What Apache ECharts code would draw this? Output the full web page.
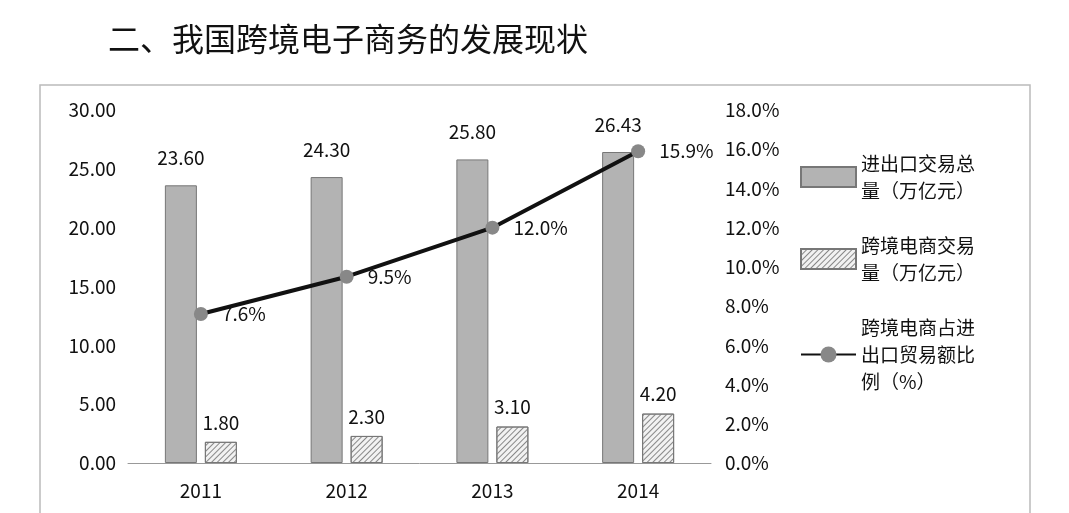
<!DOCTYPE html>
<html><head><meta charset="utf-8">
<script src="https://cdn.jsdelivr.net/npm/echarts@6/dist/echarts.min.js"></script>
<style>html,body{margin:0;background:#fff}#c{width:1069px;height:513px}</style>
</head><body><div id="c"></div>
<script>
const years=['2011','2012','2013','2014'];
const totalTrade=[23.60,24.30,25.80,26.43];
const crossBorder=[1.80,2.30,3.10,4.20];
const ratio=[7.6,9.5,12.0,15.9];
const leftTicks=[0,5,10,15,20,25,30];
const rightTicks=[0,2,4,6,8,10,12,14,16,18];
const font='"Noto Sans CJK SC","Noto Sans",sans-serif';
const chart=echarts.init(document.getElementById('c'));
chart.setOption({
  textStyle:{fontFamily:font,color:'#111'},
  title:{text:'二、我国跨境电子商务的发展现状',left:103,top:18,textStyle:{fontSize:32,fontWeight:'normal',color:'#111',fontFamily:font}},
  graphic:[{type:'rect',shape:{x:40,y:85,width:990,height:440},style:{fill:'none',stroke:'#bbb',lineWidth:1.5}}],
  grid:{left:128,right:358,top:110,bottom:50},
  legend:{orient:'vertical',left:795,top:145,itemGap:28,itemWidth:55,itemHeight:20,
    textStyle:{fontSize:19,color:'#111',lineHeight:27,fontFamily:font},
    data:[{name:'进出口交易总\n量（万亿元）',icon:'rect'},{name:'跨境电商交易\n量（万亿元）',icon:'rect'},{name:'跨境电商占进\n出口贸易额比\n例（%）'}]},
  xAxis:{type:'category',data:years,axisTick:{show:false},axisLine:{lineStyle:{color:'#999'}},
    axisLabel:{fontSize:19,color:'#111',margin:18}},
  yAxis:[{type:'value',min:0,max:30,interval:5,splitLine:{show:false},axisLine:{show:false},
     axisLabel:{fontSize:19,color:'#111',formatter:v=>v.toFixed(2),margin:12}},
    {type:'value',min:0,max:18,interval:2,splitLine:{show:false},axisLine:{show:false},
     axisLabel:{fontSize:19,color:'#111',formatter:v=>v.toFixed(1)+'%',margin:14}}],
  series:[
    {name:'进出口交易总\n量（万亿元）',type:'bar',data:totalTrade,barWidth:32,barGap:'25%',
     itemStyle:{color:'#b3b3b3',borderColor:'#777',borderWidth:1},
     label:{show:true,position:'top',fontSize:19,color:'#111',distance:18,formatter:p=>p.value.toFixed(2)}},
    {name:'跨境电商交易\n量（万亿元）',type:'bar',data:crossBorder,barWidth:32,
     itemStyle:{color:'#f2f2f2',borderColor:'#777',borderWidth:1,
       decal:{symbol:'rect',symbolSize:1,dashArrayX:[1,0],dashArrayY:[1,3],rotation:-Math.PI/4,color:'#888'}},
     label:{show:true,position:'top',fontSize:19,color:'#111',distance:10,formatter:p=>p.value.toFixed(2)}},
    {name:'跨境电商占进\n出口贸易额比\n例（%）',type:'line',yAxisIndex:1,data:ratio,symbol:'circle',symbolSize:14,
     lineStyle:{color:'#111',width:4},itemStyle:{color:'#888'},
     label:{show:true,position:'right',distance:14,fontSize:19,color:'#111',formatter:p=>p.value.toFixed(1)+'%'}}
  ]
});
</script></body></html>
